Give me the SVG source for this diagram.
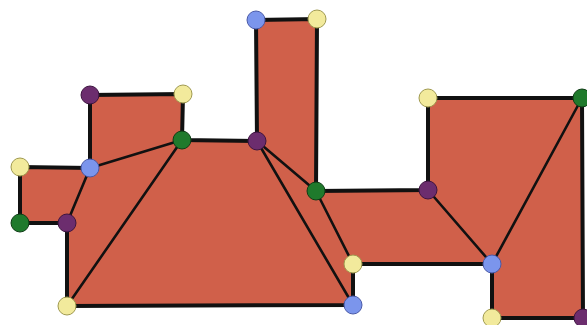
<svg xmlns="http://www.w3.org/2000/svg" width="587" height="325" viewBox="0 0 587 325">
  <style>
    .region { fill: #d0604a; stroke: #111; stroke-width: 4; stroke-linejoin: miter; }
    .edge { stroke: #111; stroke-width: 2.6; fill: none; stroke-linecap: round; }
    .node { stroke: #333; stroke-width: 1; }
    .y { fill: #f2ea9c; stroke: #a09a50; }
    .b { fill: #7b95ec; stroke: #4a5aa8; }
    .g { fill: #1f7a2c; stroke: #0f3d16; }
    .p { fill: #6c2d6e; stroke: #3d1440; }
  </style>
  <rect width="587" height="325" fill="#fff"/>

  <!-- polygon body -->
  <g id="body">
    <polygon class="region" points="20,167 90,168 90,95 183,94 182,140 257,141 256,20 317,19 316,191 428,190 428,98 582,98 583,318 492,318 492,264 353,264 353,305 67,306 67,223 20,223"/>
  </g>

  <!-- triangulation diagonals -->
  <g id="connectors">
    <line class="edge" x1="90" y1="168" x2="182" y2="140"/>
    <line class="edge" x1="90" y1="168" x2="67" y2="223"/>
    <line class="edge" x1="182" y1="140" x2="67" y2="306"/>
    <line class="edge" x1="257" y1="141" x2="316" y2="191"/>
    <line class="edge" x1="257" y1="141" x2="353" y2="305"/>
    <line class="edge" x1="316" y1="191" x2="353" y2="264"/>
    <line class="edge" x1="428" y1="190" x2="492" y2="264"/>
    <line class="edge" x1="492" y1="264" x2="582" y2="98"/>
  </g>

  <!-- vertices -->
  <g id="v1"><circle class="node y" cx="20" cy="167" r="9"/></g>
  <g id="v2"><circle class="node b" cx="90" cy="168" r="9"/></g>
  <g id="v3"><circle class="node p" cx="90" cy="95" r="9"/></g>
  <g id="v4"><circle class="node y" cx="183" cy="94" r="9"/></g>
  <g id="v5"><circle class="node g" cx="182" cy="140" r="9"/></g>
  <g id="v6"><circle class="node p" cx="257" cy="141" r="9"/></g>
  <g id="v7"><circle class="node b" cx="256" cy="20" r="9"/></g>
  <g id="v8"><circle class="node y" cx="317" cy="19" r="9"/></g>
  <g id="v9"><circle class="node g" cx="316" cy="191" r="9"/></g>
  <g id="v10"><circle class="node p" cx="428" cy="190" r="9"/></g>
  <g id="v11"><circle class="node y" cx="428" cy="98" r="9"/></g>
  <g id="v12"><circle class="node g" cx="582" cy="98" r="9"/></g>
  <g id="v13"><circle class="node p" cx="583" cy="318" r="9"/></g>
  <g id="v14"><circle class="node y" cx="492" cy="318" r="9"/></g>
  <g id="v15"><circle class="node b" cx="492" cy="264" r="9"/></g>
  <g id="v16"><circle class="node y" cx="353" cy="264" r="9"/></g>
  <g id="v17"><circle class="node b" cx="353" cy="305" r="9"/></g>
  <g id="v18"><circle class="node y" cx="67" cy="306" r="9"/></g>
  <g id="v19"><circle class="node p" cx="67" cy="223" r="9"/></g>
  <g id="v20"><circle class="node g" cx="20" cy="223" r="9"/></g>
</svg>
